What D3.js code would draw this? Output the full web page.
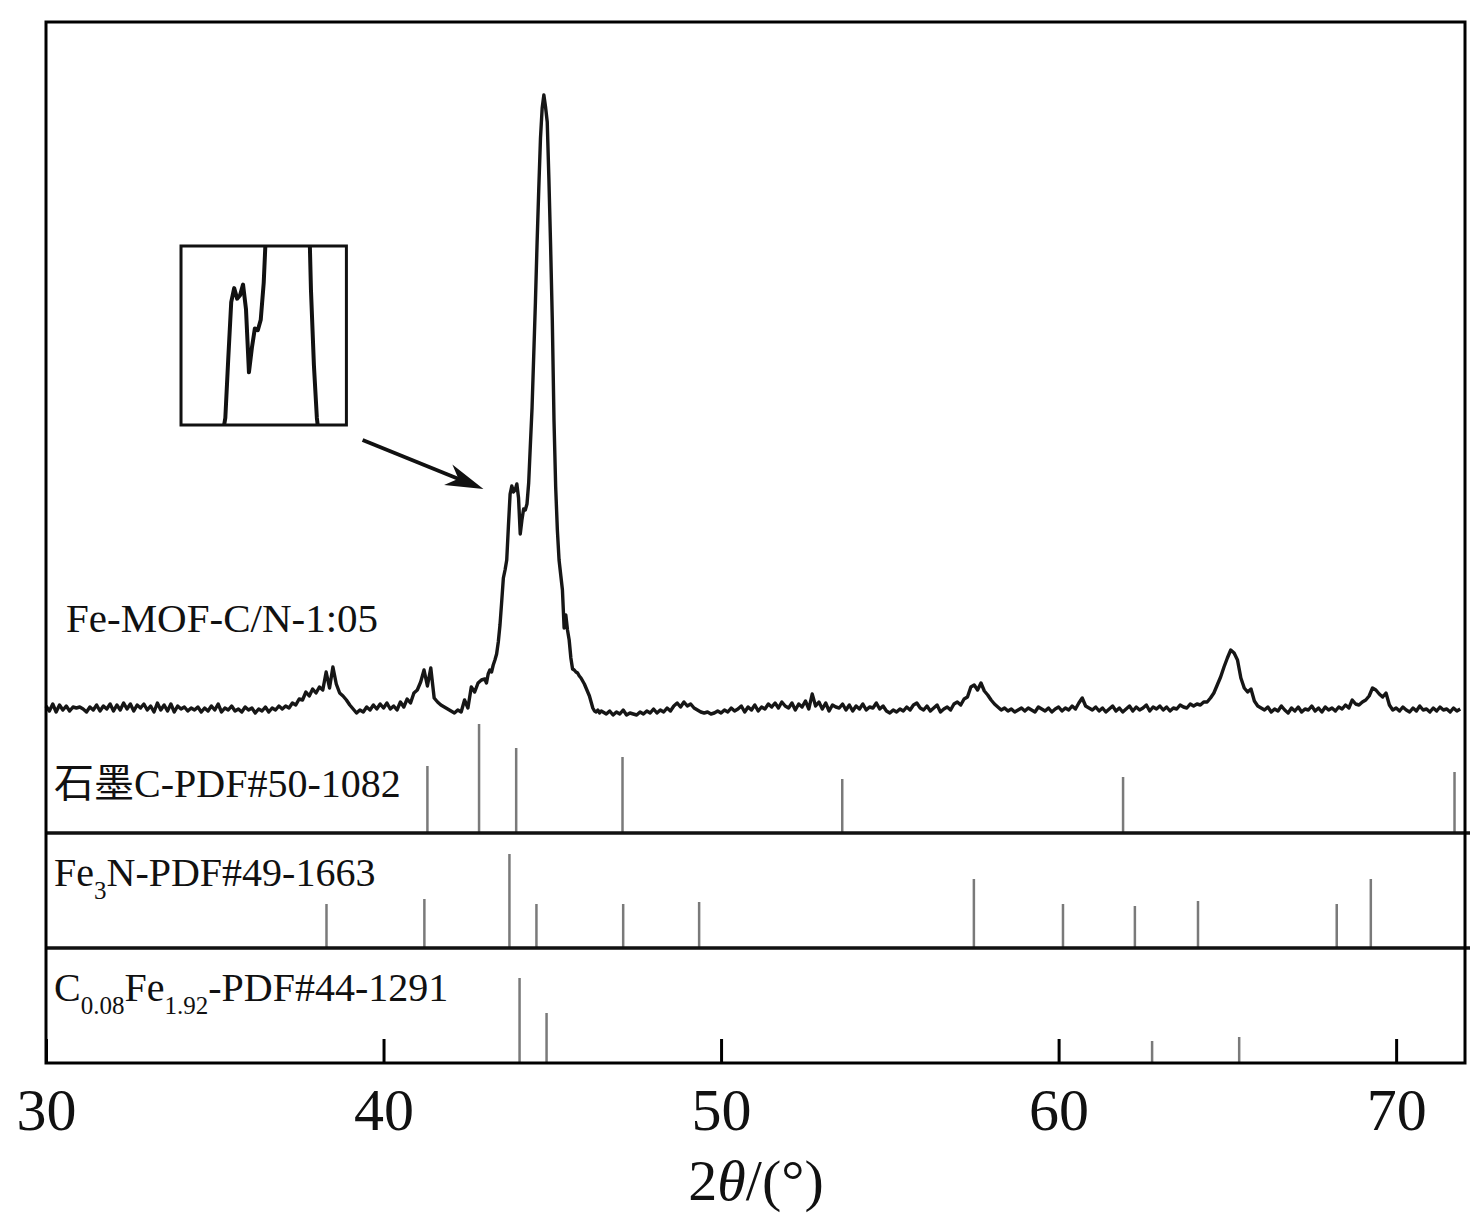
<!DOCTYPE html>
<html>
<head>
<meta charset="utf-8">
<script src="https://cdn.jsdelivr.net/npm/d3@7/dist/d3.min.js"></script>
<style>
  html, body { margin: 0; padding: 0; background: #fff; }
  svg { display: block; }
  text { font-family: "Liberation Serif", "Times New Roman", "Noto Sans CJK SC", serif; fill: #111; }
</style>
</head>
<body>
<svg id="chart" width="1482" height="1229"></svg>
<script>
// ---------------- DATA ----------------
// XRD scan of Fe-MOF-C/N-1:05 (intensity, a.u.), three sampling segments
const lowStart = 30.0, lowStep = 0.1;
const lowCounts = [
14,9,16,8,15,10,14,9,13,12,
13,11,8,13,10,15,9,14,11,16,
9,15,10,17,11,16,9,15,12,16,
10,14,8,17,10,15,9,16,8,14,
11,13,9,12,10,13,8,12,9,14,
10,16,8,12,10,14,9,11,8,13,
10,12,7,11,9,13,8,12,10,14,
11,14,12,17,15,21,20,28,24,31,
27,33,30,48,32,53,36,27,24,20,
15,11,7,10,8,13,10,15,11,16,
12,17,11,14,10,18,13,21,17,27,
30,38,50,34,52,22,18,15,13,11,
9,7,10,8,20,12,33,28,37,40];

const peakStart = 43.0, peakStep = 0.05;
const peakCounts = [
41,37,46,50,48,55,60,66,78,95,
118,142,150,160,194,226,234,228,230,236,
222,186,200,211,210,216,237,275,312,365,
418,478,532,582,612,625,613,598,540,474,
400,300,233,190,160,145,130,92,105,90,
80,62,51,50,48,47,44,42,39,36,
32,28,24,18,12,9,8,10,7,9,
8];

const highStart = 46.6, highStep = 0.1;
const highCounts = [
6,9,5,8,
6,10,5,7,6,5,8,6,9,7,
11,7,10,8,12,9,14,17,13,18,
14,16,12,10,8,7,8,6,7,9,
7,10,8,12,9,11,14,8,13,10,
15,9,13,11,16,13,17,12,18,14,
12,17,10,16,13,19,11,26,14,18,
11,17,9,15,13,12,16,10,15,9,
14,11,16,10,13,12,17,11,14,9,
7,10,8,11,9,13,10,15,17,12,
10,14,9,12,15,8,11,13,10,16,
18,15,21,23,33,35,30,37,29,25,
20,16,13,10,12,9,11,8,10,12,
9,12,10,8,13,11,9,12,8,11,
13,9,12,10,14,11,17,22,14,12,
10,13,9,12,8,11,14,9,12,8,
11,14,9,13,10,12,15,9,13,11,
14,10,13,9,12,11,15,13,12,16,
14,16,15,18,18,22,27,35,43,53,
62,70,67,60,42,32,28,31,19,14,
12,10,13,8,11,9,14,10,7,12,
9,13,8,11,10,14,9,12,8,13,
10,12,9,13,11,15,12,20,16,15,
18,20,24,32,30,26,23,27,15,10,
12,9,13,10,8,12,9,14,10,11,
8,12,9,13,10,11,8,12,9,11];

// Reference patterns (2θ positions, relative intensities)
const graphiteLabel = "石墨C-PDF#50-1082";
const graphitePos = [41.30, 42.83, 43.93, 47.08, 53.59, 61.91, 71.73];
const graphiteInt = [67, 109, 85, 76, 54, 56, 61];

const fe3nPos = [38.31, 41.21, 43.73, 44.53, 47.10, 49.35, 57.49, 60.13, 62.26, 64.13, 68.24, 69.25];
const fe3nInt = [44, 49, 94, 44, 44, 46, 69, 44, 42, 47, 44, 69];

const cfePos = [44.03, 44.83, 62.77, 65.35];
const cfeInt = [85, 50, 22, 26];

const sampleLabel = "Fe-MOF-C/N-1:05";
const xTicks = [30, 40, 50, 60, 70];

// annotation anchors in data space
const arrowFrom = [39.38, 280], arrowTo = [42.96, 231];
const insetTheta = [34.0, 38.9], insetCounts = [295, 474];
const insetZoomTheta = [42.9, 45.7], insetZoomCounts = [156, 258];

// ---------------- BUILD ----------------
const pts = [];
lowCounts.forEach((c, i) => pts.push([lowStart + i * lowStep, c]));
peakCounts.forEach((c, i) => pts.push([peakStart + i * peakStep, c]));
highCounts.forEach((c, i) => pts.push([highStart + i * highStep, c]));

const svg = d3.select("#chart");
const L = 46, R = 1465, T = 22, B = 1063;
const sep1 = 833, sep2 = 948;

const x = d3.scaleLinear().domain([30, 72.07]).range([L, R + 1]);
const y = d3.scaleLinear().domain([0, 700]).range([720, 20]);
const stick = d3.scaleLinear().domain([0, 100]).range([0, 100]);

// defs / clip for inset
const defs = svg.append("defs");
const ix0 = x(insetTheta[0]), ix1 = x(insetTheta[1]);
const iy0 = y(insetCounts[1]), iy1 = y(insetCounts[0]);
defs.append("clipPath").attr("id", "insetClip")
  .append("rect").attr("x", ix0).attr("y", iy0).attr("width", ix1 - ix0).attr("height", iy1 - iy0);

// main XRD curve
const line = d3.line().x(d => x(d[0])).y(d => y(d[1]));
svg.append("path").datum(pts)
  .attr("d", line)
  .attr("fill", "none").attr("stroke", "#161616").attr("stroke-width", 3.4)
  .attr("stroke-linejoin", "round");

// inset: magnified view of the shoulder
const xi = d3.scaleLinear().domain(insetZoomTheta).range([ix0, ix1]);
const yi = d3.scaleLinear().domain(insetZoomCounts).range([iy1, iy0]);
svg.append("path").datum(pts.filter(d => d[0] >= 42.5 && d[0] <= 46.2))
  .attr("clip-path", "url(#insetClip)")
  .attr("d", d3.line().x(d => xi(d[0])).y(d => yi(d[1])))
  .attr("fill", "none").attr("stroke", "#111").attr("stroke-width", 4)
  .attr("stroke-linejoin", "round");
svg.append("rect").attr("x", ix0).attr("y", iy0).attr("width", ix1 - ix0).attr("height", iy1 - iy0)
  .attr("fill", "none").attr("stroke", "#111").attr("stroke-width", 3);

// arrow
const ax0 = x(arrowFrom[0]), ay0 = y(arrowFrom[1]);
const ax1 = x(arrowTo[0]), ay1 = y(arrowTo[1]);
const ang = Math.atan2(ay1 - ay0, ax1 - ax0) * 180 / Math.PI;
const len = Math.hypot(ax1 - ax0, ay1 - ay0);
svg.append("line").attr("x1", ax0).attr("y1", ay0)
  .attr("x2", ax0 + (ax1 - ax0) * (len - 20) / len).attr("y2", ay0 + (ay1 - ay0) * (len - 20) / len)
  .attr("stroke", "#111").attr("stroke-width", 4);
svg.append("path").attr("d", "M0,0 L-38,-11 L-27,0 L-38,11 Z")
  .attr("transform", `translate(${ax1},${ay1}) rotate(${ang})`)
  .attr("fill", "#111");

// reference stick patterns
const panels = [
  { base: sep1, pos: graphitePos, inten: graphiteInt },
  { base: sep2, pos: fe3nPos, inten: fe3nInt },
  { base: B, pos: cfePos, inten: cfeInt }
];
panels.forEach(p => {
  svg.append("g").selectAll("line").data(p.pos.map((v, i) => [v, p.inten[i]]))
    .join("line")
    .attr("x1", d => x(d[0])).attr("x2", d => x(d[0]))
    .attr("y1", p.base).attr("y2", d => p.base - stick(d[1]))
    .attr("stroke", "#7a7a7a").attr("stroke-width", 2.5);
});

// separators
[sep1, sep2].forEach(s => {
  svg.append("line").attr("x1", L).attr("x2", R + 5).attr("y1", s).attr("y2", s)
    .attr("stroke", "#111").attr("stroke-width", 3.5);
});

// frame
svg.append("rect").attr("x", L).attr("y", T).attr("width", R - L).attr("height", B - T)
  .attr("fill", "none").attr("stroke", "#000").attr("stroke-width", 3);

// bottom axis
const axis = d3.axisBottom(x).tickValues(xTicks).tickSizeInner(-24).tickSizeOuter(0).tickPadding(0)
  .tickFormat(d3.format("d"));
const gAxis = svg.append("g").attr("transform", `translate(0,${B})`).call(axis);
gAxis.select(".domain").remove();
gAxis.selectAll(".tick line").attr("stroke", "#000").attr("stroke-width", 3);
gAxis.selectAll(".tick text")
  .attr("y", 67).attr("dy", null)
  .attr("font-size", 60).attr("font-family", "Liberation Serif").attr("fill", "#111");

// axis title
const title = svg.append("text").attr("x", 756).attr("y", 1200).attr("text-anchor", "middle")
  .attr("font-size", 58);
title.append("tspan").text("2");
title.append("tspan").attr("font-style", "italic").text("θ");
title.append("tspan").text("/(°)");

// labels
svg.append("text").attr("x", 66).attr("y", 632).attr("font-size", 41).text(sampleLabel);

svg.append("text").attr("x", 54).attr("y", 797).attr("font-size", 40).text(graphiteLabel);

const t2 = svg.append("text").attr("x", 54).attr("y", 886).attr("font-size", 40);
t2.append("tspan").text("Fe");
t2.append("tspan").attr("font-size", 25).attr("dy", 13).text("3");
t2.append("tspan").attr("dy", -13).text("N-PDF#49-1663");

const t3 = svg.append("text").attr("x", 54).attr("y", 1001).attr("font-size", 40);
t3.append("tspan").text("C");
t3.append("tspan").attr("font-size", 25).attr("dy", 13).text("0.08");
t3.append("tspan").attr("dy", -13).text("Fe");
t3.append("tspan").attr("font-size", 25).attr("dy", 13).text("1.92");
t3.append("tspan").attr("dy", -13).text("-PDF#44-1291");
</script>
</body>
</html>
